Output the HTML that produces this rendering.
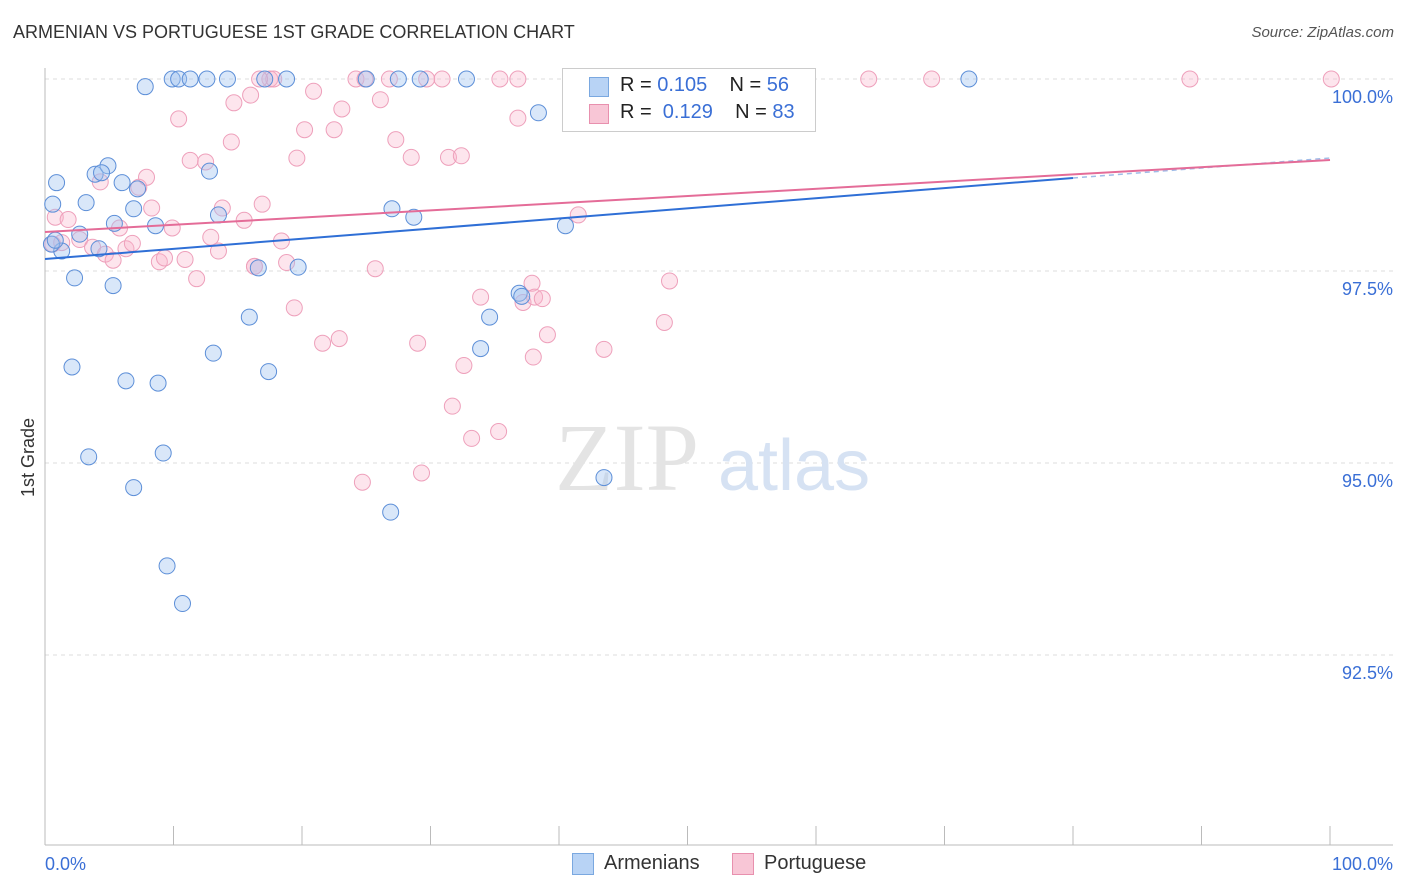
<!DOCTYPE html>
<html><head><meta charset="utf-8"><style>
body{margin:0;background:#fff;font-family:"Liberation Sans",sans-serif;}
#wrap{position:relative;width:1406px;height:892px;overflow:hidden;}
.t{position:absolute;white-space:nowrap;}
</style></head><body>
<div id="wrap">
<div class="t" style="left:13px;top:22px;font-size:18px;color:#333;">ARMENIAN VS PORTUGUESE 1ST GRADE CORRELATION CHART</div>
<div class="t" style="right:12px;top:24px;font-size:15px;color:#555;font-style:italic;">Source: ZipAtlas.com</div>
<div class="t" style="left:18px;top:497px;font-size:18px;color:#333;transform:rotate(-90deg);transform-origin:left top;">1st Grade</div>
<svg id="svg" width="1406" height="892" style="position:absolute;left:0;top:0"></svg>
<div class="t" style="left:562px;top:68px;width:252px;height:62px;border:1px solid #ccc;background:#fff;font-size:20px;">
<div style="position:absolute;left:26px;top:8px;width:18px;height:18px;background:#b8d3f5;border:1px solid #7aa8e0"></div>
<div style="position:absolute;left:57px;top:5px;color:#222">R = <span style="color:#3a6fd6">0.105</span>&nbsp;&nbsp;&nbsp; N = <span style="color:#3a6fd6">56</span></div>
<div style="position:absolute;left:26px;top:35px;width:18px;height:18px;background:#f8c6d6;border:1px solid #e890ae"></div>
<div style="position:absolute;left:57px;top:32px;color:#222">R = &nbsp;<span style="color:#3a6fd6">0.129</span>&nbsp;&nbsp;&nbsp; N = <span style="color:#3a6fd6">83</span></div>
</div>
<div class="t" style="left:572px;top:853px;width:20px;height:20px;background:#b8d3f5;border:1px solid #7aa8e0"></div>
<div class="t" style="left:604px;top:852px;font-size:20px;color:#333">Armenians</div>
<div class="t" style="left:732px;top:853px;width:20px;height:20px;background:#f8c6d6;border:1px solid #e890ae"></div>
<div class="t" style="left:764px;top:852px;font-size:20px;color:#333">Portuguese</div>
</div>
<script>
const yTicks=[100,97.5,95,92.5];
const yTickLabels=["100.0%","97.5%","95.0%","92.5%"];
const xTickLabels=["0.0%","100.0%"];
const blueX=[7.8,9.9,10.4,11.3,12.6,14.2,17.1,18.8,25.0,27.5,29.2,32.8,38.4,71.9,0.9,0.6,3.2,3.9,4.9,4.4,6.0,7.2,12.8,6.9,5.4,8.6,13.5,2.7,1.3,4.2,2.3,5.3,16.6,19.7,15.9,13.1,2.1,6.3,8.8,17.4,27.0,28.7,40.5,36.9,34.6,33.9,3.4,9.2,6.9,43.5,26.9,9.5,10.7,0.5,37.1,0.8];
const blueY=[99.9,100,100,100,100,100,100,100,100,100,100,100,99.56,100,98.65,98.37,98.39,98.76,98.87,98.78,98.65,98.57,98.8,98.31,98.12,98.09,98.23,97.98,97.76,97.79,97.41,97.31,97.54,97.55,96.9,96.43,96.25,96.07,96.04,96.19,98.31,98.2,98.09,97.21,96.9,96.49,95.08,95.13,94.68,94.81,94.36,93.66,93.17,97.85,97.17,97.9];
const pinkX=[0.6,0.8,1.8,1.3,2.7,3.7,4.3,4.7,5.3,5.8,6.3,6.8,7.3,7.9,8.3,8.9,9.3,9.9,10.4,10.9,11.3,11.8,12.5,12.9,13.5,13.8,14.5,14.7,15.5,16.0,16.3,16.9,17.5,17.8,18.4,18.8,19.4,19.6,20.2,20.9,22.5,23.1,21.6,22.9,24.2,24.9,25.7,26.1,26.8,27.3,28.5,29.0,29.7,30.9,31.4,32.4,31.7,32.6,33.2,35.3,33.9,36.8,38.0,36.8,37.2,37.9,38.1,38.7,39.1,41.5,43.5,48.2,48.6,51.4,64.1,69.0,89.1,100.1,24.7,29.3,16.3,16.7,35.4];
const pinkY=[97.85,98.2,98.17,97.87,97.91,97.81,98.66,97.72,97.64,98.06,97.79,97.86,98.59,98.72,98.32,97.62,97.67,98.06,99.48,97.65,98.94,97.4,98.92,97.94,97.76,98.32,99.18,99.69,98.16,99.79,97.56,98.37,100,100,97.89,97.61,97.02,98.97,99.34,99.84,99.34,99.61,96.56,96.62,100,100,97.53,99.73,100,99.21,98.98,96.56,100,100,98.98,99.0,95.74,96.27,95.32,95.41,97.16,99.49,96.38,100,97.09,97.34,97.16,97.14,96.67,98.23,96.48,96.83,97.37,100,100,100,100,100,94.75,94.87,97.56,100,100];
const x0=45,x1=1330,yTop=79,pxPerPct=76.8;
const sx=v=>x0+(x1-x0)*v/100;
const sy=v=>yTop+(100-v)*pxPerPct;
const svg=document.getElementById('svg');const NS='http://www.w3.org/2000/svg';
function mk(t,a,name){const e=document.createElementNS(NS,t);for(const k in a)e.setAttribute(k,a[k]);


svg.appendChild(e);return e;}
yTicks.forEach((v,i)=>{mk('line',{x1:x0,x2:1393,y1:sy(v),y2:sy(v),stroke:'#ddd','stroke-dasharray':'4,4'},'y-gridline');
const t=mk('text',{x:1393,y:sy(v)+24,'text-anchor':'end','font-size':18,fill:'#3a6fd6','font-family':'Liberation Sans'},'y-tick-label');t.textContent=yTickLabels[i];});
mk('line',{x1:x0,x2:x0,y1:68,y2:845,stroke:'#bbb'},'y-axis');
mk('line',{x1:x0,x2:1393,y1:845,y2:845,stroke:'#bbb'},'x-axis');
for(let i=1;i<=10;i++){const x=x0+(x1-x0)*i/10;mk('line',{x1:x,x2:x,y1:826,y2:845,stroke:'#bbb'},'x-tick');}
let t=mk('text',{x:45,y:870,'font-size':18,fill:'#3a6fd6','font-family':'Liberation Sans'},'x-tick-label');t.textContent=xTickLabels[0];
t=mk('text',{x:1393,y:870,'text-anchor':'end','font-size':18,fill:'#3a6fd6','font-family':'Liberation Sans'},'x-tick-label');t.textContent=xTickLabels[1];
t=mk('text',{x:555,y:490,'font-size':96,fill:'#e4e4e4','font-family':'Liberation Serif'},'watermark-zip');t.textContent='ZIP';
t=mk('text',{x:718,y:490,'font-size':72,fill:'#d6e2f3','font-family':'Liberation Sans'},'watermark-atlas');t.textContent='atlas';
pinkX.forEach((v,i)=>mk('circle',{cx:sx(v),cy:sy(pinkY[i]),r:8,fill:'rgba(248,180,204,0.35)',stroke:'#eea0bb','stroke-width':1},'portuguese-point'));
blueX.forEach((v,i)=>mk('circle',{cx:sx(v),cy:sy(blueY[i]),r:8,fill:'rgba(160,196,240,0.4)',stroke:'#5d8fd8','stroke-width':1},'armenian-point'));
mk('line',{x1:sx(0),y1:259,x2:sx(80),y2:178,stroke:'#2f6fd6','stroke-width':2},'armenian-trendline');
mk('line',{x1:sx(80),y1:178,x2:sx(100),y2:158,stroke:'#9fbce8','stroke-width':1.5,'stroke-dasharray':'5,4'},'armenian-trendline-extension');
mk('line',{x1:sx(0),y1:232,x2:sx(100),y2:160,stroke:'#e46c98','stroke-width':2},'portuguese-trendline');
</script>
</body></html>
